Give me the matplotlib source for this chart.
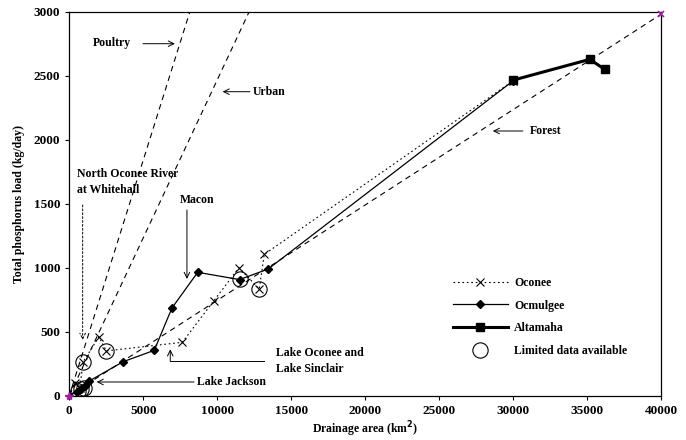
import matplotlib.pyplot as plt

plt.rcParams["font.family"] = "Liberation Serif"
plt.rcParams["font.weight"] = "bold"

# Dados (área de drenagem em km2, carga de P em kg/dia)
oconee_x = [0, 400, 700, 950, 2000, 2500, 7640, 9760, 11470, 12840, 13180, 30000]
oconee_y = [0, 100, 60, 266, 460, 350, 417, 740, 1000, 833, 1104, 2460]

ocmulgee_x = [0, 500, 800, 1050, 1350, 3650, 5740, 6940, 8680, 11510, 13450, 30000]
ocmulgee_y = [0, 30, 55, 75, 115, 266, 354, 685, 964, 907, 990, 2460]

altamaha_x = [29960, 35190, 36180]
altamaha_y = [2464, 2628, 2550]

limitado_x = [600, 800, 1000, 950, 2500, 11510, 12840]
limitado_y = [40, 50, 60, 266, 350, 910, 833]

# Retas de referência (uso do solo)
forest_x = [0, 40000]
forest_y = [0, 2980]
urban_x = [0, 12160]
urban_y = [0, 3000]
poultry_x = [0, 8150]
poultry_y = [0, 3000]

fig = plt.figure(figsize=(6.86, 4.40), dpi=100)
ax = fig.add_axes([0.101, 0.1007, 0.8626, 0.8727])

tam_font = 8.5
tracejado = (0, (5, 4))

ax.plot(poultry_x, poultry_y, color="black", lw=0.8, ls=tracejado)
ax.plot(urban_x, urban_y, color="black", lw=0.8, ls=tracejado)
ax.plot(forest_x, forest_y, color="black", lw=0.8, ls=tracejado)

ax.plot(oconee_x, oconee_y, color="black", lw=0.8, ls=(0, (1.5, 2.5)),
        marker="x", ms=6, mew=0.8, label="Oconee")
ax.plot(ocmulgee_x, ocmulgee_y, color="black", lw=0.9, ls="-",
        marker="D", ms=4.5, label="Ocmulgee")
ax.plot(altamaha_x, altamaha_y, color="black", lw=2.2, ls="-",
        marker="s", ms=6, mfc="black", mec="black", label="Altamaha")
ax.plot(limitado_x, limitado_y, ls="none", marker="o", ms=11, mfc="none",
        mec="black", mew=0.8, label="Limited data available")

# pontos extremos em magenta
ax.plot([0], [0], ls="none", marker="*", ms=6, color="#a020a0", clip_on=False, zorder=5)
ax.plot([40000], [2980], ls="none", marker="x", ms=5, mew=1.2, color="#a020a0",
        clip_on=False, zorder=5)

ax.set_xlim(0, 40000)
ax.set_ylim(0, 3000)
ax.set_xticks(range(0, 40001, 5000))
ax.set_yticks(range(0, 3001, 500))
ax.tick_params(axis="both", labelsize=9.5, length=3, width=0.8)
for lado in ax.spines.values():
    lado.set_linewidth(0.9)

ax.set_xlabel("Drainage area (km$^\\mathbf{2}$)", fontsize=tam_font, fontweight="bold", labelpad=2)
ax.set_ylabel("Total phosphorus load (kg/day)", fontsize=tam_font, fontweight="bold", labelpad=6)

seta = dict(arrowstyle="->", color="black", lw=0.7, shrinkA=0, shrinkB=0)

# Anotações
ax.text(1600, 2755, "Poultry", fontsize=tam_font, va="center")
ax.annotate("", xy=(7140, 2750), xytext=(4980, 2750), arrowprops=seta)

ax.text(12410, 2375, "Urban", fontsize=tam_font, va="center")
ax.annotate("", xy=(10365, 2375), xytext=(12210, 2375), arrowprops=seta)

ax.text(31130, 2068, "Forest", fontsize=tam_font, va="center")
ax.annotate("", xy=(28630, 2068), xytext=(30660, 2068), arrowprops=seta)

ax.text(520, 1668, "North Oconee River\nat Whitehall", fontsize=tam_font,
        va="center", linespacing=1.45)
ax.annotate("", xy=(905, 436), xytext=(905, 1490),
            arrowprops=dict(seta, ls=(0, (2, 2))))

ax.text(7480, 1530, "Macon", fontsize=tam_font, va="center")
ax.annotate("", xy=(7953, 912), xytext=(7953, 1451), arrowprops=seta)

ax.text(13970, 272, "Lake Oconee and\nLake Sinclair", fontsize=tam_font,
        va="center", linespacing=1.45)
ax.plot([13160, 6825], [271, 271], color="black", lw=0.7)
ax.annotate("", xy=(6825, 362), xytext=(6825, 271), arrowprops=seta)

ax.text(8640, 107, "Lake Jackson", fontsize=tam_font, va="center")
ax.annotate("", xy=(1850, 107), xytext=(8430, 107), arrowprops=seta)

ax.legend(loc="upper left", bbox_to_anchor=(0.63, 0.337), frameon=False,
          fontsize=tam_font, handlelength=4.7, labelspacing=0.9, handletextpad=0.5)

plt.savefig("out.png", dpi=100)
